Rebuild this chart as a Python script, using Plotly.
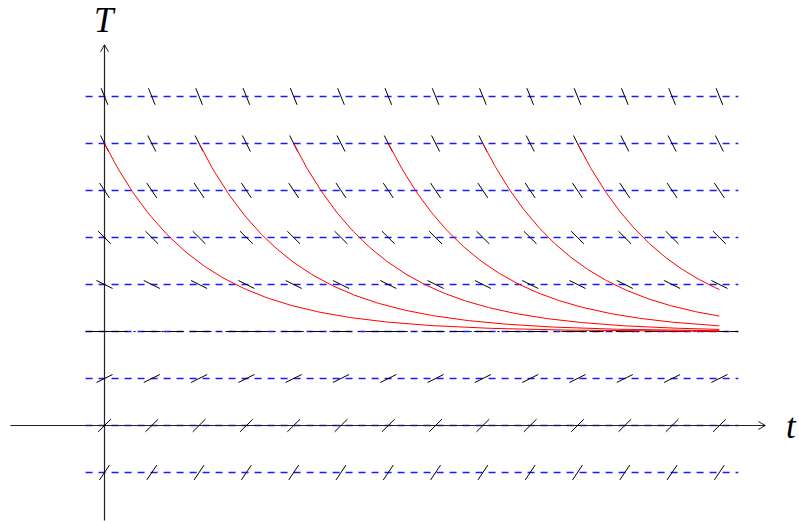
import numpy as np
import plotly.graph_objects as go

# ---- data / model parameters ----
k_rate = 0.5            # cooling constant
T_env = 2.0             # ambient temperature
T_start = 6.0           # initial temperature of each solution
start_times = [0, 2, 4, 6, 8, 10]
t_end = 13.0
t_grid = list(range(0, 14))          # slope-field columns
T_levels = [-1, 0, 1, 2, 3, 4, 5, 6, 7]   # slope-field rows / guide lines
line_t_min, line_t_max = -0.4, 13.4
axis_t = (-1.99, 13.97)
axis_T = (-2.02, 8.1)

fig = go.Figure()

# blue dashed guide lines
for T in T_levels:
    fig.add_trace(go.Scatter(x=[line_t_min, line_t_max], y=[T, T], mode="lines",
                             line=dict(color="#1a1aff", width=1.4, dash="7px,6px"),
                             hoverinfo="skip", showlegend=False))
# equilibrium line (black dash-dot)
fig.add_trace(go.Scatter(x=[line_t_min, line_t_max], y=[T_env, T_env], mode="lines",
                         line=dict(color="black", width=1, dash="14px,6px,2px,6px"),
                         hoverinfo="skip", showlegend=False))

# axes
fig.add_trace(go.Scatter(x=list(axis_t), y=[0, 0], mode="lines",
                         line=dict(color="#222", width=1.2), hoverinfo="skip", showlegend=False))
fig.add_trace(go.Scatter(x=[0, 0], y=list(axis_T), mode="lines",
                         line=dict(color="#222", width=1.2), hoverinfo="skip", showlegend=False))
# arrow heads (chevrons) at axis ends
ux, uy = 1 / 47.3, 1 / 47.0
xt = axis_t[1]
fig.add_trace(go.Scatter(x=[xt - 7 * ux, xt, xt - 7 * ux], y=[4 * uy, 0, -4 * uy], mode="lines",
                         line=dict(color="#222", width=1), hoverinfo="skip", showlegend=False))
yt = axis_T[1]
fig.add_trace(go.Scatter(x=[-4 * ux, 0, 4 * ux], y=[yt - 7 * uy, yt, yt - 7 * uy], mode="lines",
                         line=dict(color="#222", width=1), hoverinfo="skip", showlegend=False))

# slope field segments
half = 0.19
sx, sy = [], []
for T in T_levels:
    s = -k_rate * (T - T_env)
    dt = half / np.sqrt(1 + s * s)
    for t in t_grid:
        sx += [t - dt, t + dt, None]
        sy += [T - s * dt, T + s * dt, None]
fig.add_trace(go.Scatter(x=sx, y=sy, mode="lines", line=dict(color="black", width=1),
                         hoverinfo="skip", showlegend=False))

# solution curves
for t0 in start_times:
    tt = np.linspace(t0, t_end, 200)
    TT = T_env + (T_start - T_env) * np.exp(-k_rate * (tt - t0))
    fig.add_trace(go.Scatter(x=tt, y=TT, mode="lines", line=dict(color="red", width=1),
                             hoverinfo="skip", showlegend=False))

font = dict(family="Liberation Serif, Times New Roman, serif", size=35, color="black")
fig.add_annotation(x=0.0, y=8.62, xref="x", yref="y", text="<i>T</i>", showarrow=False, font=font)
fig.add_annotation(x=14.52, y=-0.02, xref="x", yref="y", text="<i>t</i>", showarrow=False, font=font)

fig.update_layout(width=799, height=521, margin=dict(l=0, r=0, t=0, b=0),
                  plot_bgcolor="white", paper_bgcolor="white",
                  xaxis=dict(range=[-2.2093, 14.683], visible=False),
                  yaxis=dict(range=[-2.0319, 9.0532], visible=False))
fig.write_html("out.html", post_script="document.body.style.margin='0';",
               config={"displayModeBar": False})
